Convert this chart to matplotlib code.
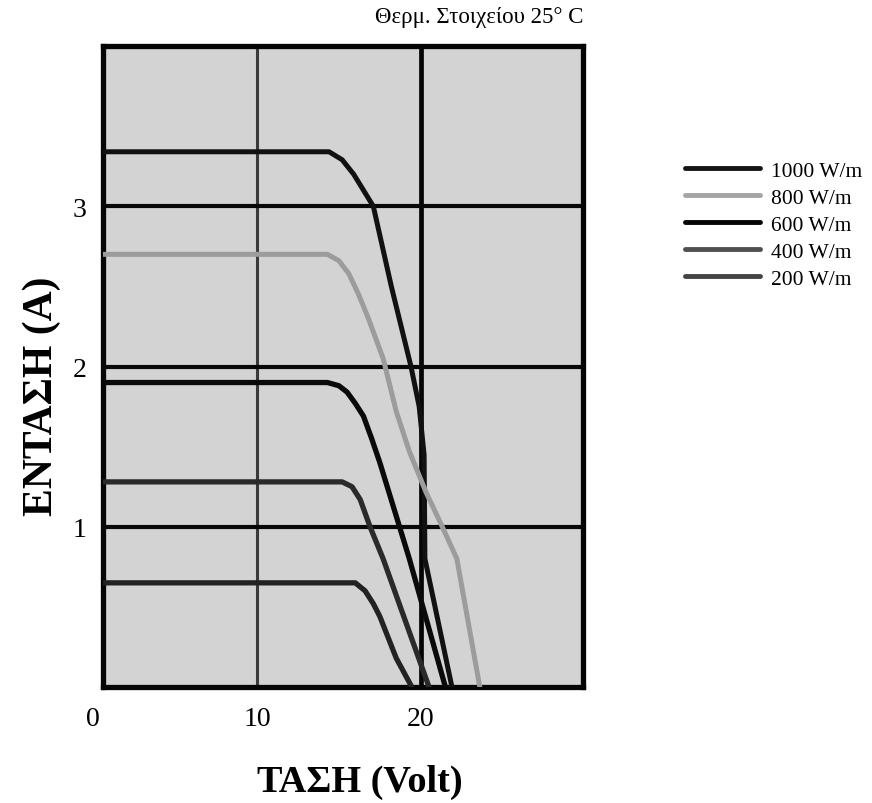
import matplotlib
matplotlib.use("Agg")
import matplotlib.pyplot as plt

plt.rcParams['font.family'] = ['Liberation Serif', 'DejaVu Serif']

# ---- data ----
V_1000 = [0.6, 14.4, 15.2, 15.9, 16.5, 17.1, 18.2, 19.4, 19.9, 20.2, 20.25, 21.9]
I_1000 = [3.34, 3.34, 3.29, 3.20, 3.10, 3.00, 2.50, 2.00, 1.75, 1.45, 0.80, 0.00]

V_800 = [0.6, 14.3, 15.0, 15.6, 16.2, 16.8, 17.7, 18.5, 19.3, 20.3, 21.4, 22.2, 23.6]
I_800 = [2.70, 2.70, 2.66, 2.58, 2.45, 2.30, 2.05, 1.72, 1.47, 1.22, 0.98, 0.80, 0.00]

V_600 = [0.6, 14.3, 15.0, 15.5, 16.0, 16.5, 17.0, 17.5, 18.7, 19.3, 21.5]
I_600 = [1.90, 1.90, 1.88, 1.84, 1.77, 1.69, 1.55, 1.40, 1.00, 0.80, 0.00]

V_400 = [0.6, 15.2, 15.8, 16.3, 16.9, 17.7, 20.5]
I_400 = [1.28, 1.28, 1.25, 1.17, 1.00, 0.80, 0.00]

V_200 = [0.6, 16.0, 16.6, 17.1, 17.5, 18.5, 19.45]
I_200 = [0.65, 0.65, 0.60, 0.52, 0.44, 0.18, 0.00]

series_labels = ["1000 W/m", "800 W/m", "600 W/m", "400 W/m", "200 W/m"]
x_ticks = [0, 10, 20]
y_ticks = [1, 2, 3]
title_text = "Θερμ. Στοιχείου 25° C"
x_label = "ΤΑΣΗ (Volt)"
y_label = "ΕΝΤΑΣΗ (A)"

# ---- figure ----
W, H = 872, 804
fig = plt.figure(figsize=(W / 100, H / 100), dpi=100)
ax = fig.add_axes([103 / W, (H - 688) / H, 480 / W, 641 / H])
ax.set_facecolor('#d3d3d3')
ax.set_xlim(0.6, 29.9)
ax.set_ylim(0, 4.0)

# grid lines
ax.axvline(x_ticks[1], color='#3a3a3a', lw=2.2, zorder=1)
ax.axvline(x_ticks[2], color='#050505', lw=3.4, zorder=1)
for yt in y_ticks:
    ax.axhline(yt, color='#080808', lw=3.0, zorder=1)

styles = [
    dict(color='#111111', lw=3.6),
    dict(color='#9c9c9c', lw=3.6),
    dict(color='#0a0a0a', lw=3.8),
    dict(color='#2a2a2a', lw=3.8),
    dict(color='#222222', lw=3.8),
]
leg_colors = ['#151515', '#a5a5a5', '#050505', '#505050', '#444444']
data = [(V_1000, I_1000), (V_800, I_800), (V_600, I_600), (V_400, I_400), (V_200, I_200)]
handles = []
for (v, i), st, lab in zip(data, styles, series_labels):
    ln, = ax.plot(v, i, solid_capstyle='round', solid_joinstyle='round', zorder=3, label=lab, **st)
    handles.append(ln)

for s in ax.spines.values():
    s.set_linewidth(3.8)
    s.set_color('#050505')

# ticks
ax.set_xticks(x_ticks[1:])
ax.set_xticklabels([str(t) for t in x_ticks[1:]])
ax.set_yticks(y_ticks)
ax.set_yticklabels([str(t) for t in y_ticks])
ax.tick_params(axis='both', length=0, labelsize=20)
ax.tick_params(axis='x', pad=14)
ax.tick_params(axis='y', pad=12)
ax.annotate(str(x_ticks[0]), xy=(x_ticks[0], 0), xycoords='data',
            xytext=(0, -14), textcoords='offset points',
            ha='center', va='top', fontsize=20, annotation_clip=False)

# labels
fig.text(360 / W, 1 - 782 / H, x_label, ha='center', va='center',
         fontsize=27.5, fontweight='bold')
fig.text(42 / W, 1 - 396 / H, y_label, ha='center', va='center',
         fontsize=30, fontweight='bold', rotation=90)
fig.text(583 / W, 1 - 18 / H, title_text, ha='right', va='center', fontsize=16.5)

# legend
leg = fig.legend(handles=handles, labels=series_labels, loc='upper left',
                 bbox_to_anchor=(676 / W, 1 - 153 / H), frameon=False,
                 fontsize=15.5, handlelength=3.5, handletextpad=0.5,
                 labelspacing=0.32, borderaxespad=0)
for lh, c in zip(leg.get_lines(), leg_colors):
    lh.set_linewidth(3.5)
    lh.set_color(c)

fig.savefig("out.png", dpi=100)
